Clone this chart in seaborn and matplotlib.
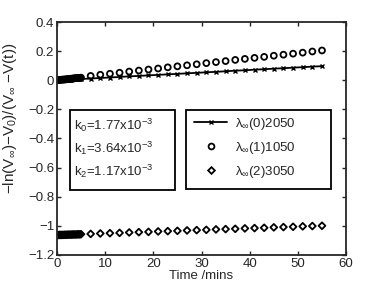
import numpy as np
import pandas as pd
import matplotlib
matplotlib.use("Agg")
import matplotlib.pyplot as plt
import seaborn as sns
from matplotlib.lines import Line2D
from matplotlib.patches import Rectangle

# time points (mins): dense early samples then every 2 mins
t_dense = [0, 0.25, 0.5, 0.75, 1.0, 1.25, 1.5, 1.75, 2.0, 2.25, 2.5,
           2.75, 3.0, 3.25, 3.5, 3.75, 4.0, 4.25, 4.5, 4.75, 5.0]
t_sparse = [7, 9, 11, 13, 15, 17, 19, 21, 23, 25, 27, 29, 31, 33, 35,
            37, 39, 41, 43, 45, 47, 49, 51, 53, 55]

# lambda_inf(0)2050
y0_dense = [0.000, 0.000, 0.001, 0.001, 0.002, 0.002, 0.003, 0.003, 0.004, 0.004, 0.004,
            0.005, 0.005, 0.006, 0.006, 0.007, 0.007, 0.008, 0.008, 0.008, 0.009]
y0_sparse = [0.012, 0.016, 0.019, 0.023, 0.027, 0.030, 0.034, 0.037, 0.041, 0.044, 0.048,
             0.051, 0.055, 0.058, 0.062, 0.066, 0.069, 0.073, 0.076, 0.080, 0.083,
             0.087, 0.090, 0.094, 0.097]

# lambda_inf(1)1050
y1_dense = [0.000, 0.001, 0.002, 0.003, 0.004, 0.005, 0.005, 0.006, 0.007, 0.008, 0.009,
            0.010, 0.011, 0.012, 0.013, 0.014, 0.015, 0.015, 0.016, 0.017, 0.018]
y1_sparse = [0.030, 0.038, 0.045, 0.052, 0.060, 0.067, 0.074, 0.081, 0.089, 0.096, 0.103,
             0.110, 0.118, 0.125, 0.132, 0.140, 0.147, 0.154, 0.161, 0.169, 0.176,
             0.183, 0.190, 0.198, 0.205]

# lambda_inf(2)3050
y2_dense = [-1.064, -1.064, -1.063, -1.063, -1.063, -1.063, -1.062, -1.062, -1.062, -1.061, -1.061,
            -1.061, -1.061, -1.060, -1.060, -1.060, -1.060, -1.059, -1.059, -1.059, -1.058]
y2_sparse = [-1.056, -1.053, -1.051, -1.049, -1.046, -1.044, -1.042, -1.039, -1.037, -1.035,
             -1.032, -1.030, -1.028, -1.025, -1.023, -1.021, -1.018, -1.016, -1.014, -1.011,
             -1.009, -1.007, -1.004, -1.002, -1.000]

labels = [r"$\lambda_{\infty}$(0)2050", r"$\lambda_{\infty}$(1)1050", r"$\lambda_{\infty}$(2)3050"]
k_text = "k$_0$=1.77x10$^{-3}$\nk$_1$=3.64x10$^{-3}$\nk$_2$=1.17x10$^{-3}$"

t = t_dense + t_sparse
df = pd.DataFrame({"t": t, "y0": y0_dense + y0_sparse,
                   "y1": y1_dense + y1_sparse, "y2": y2_dense + y2_sparse})

sns.set_style("ticks")
plt.rcParams['font.family'] = ['Liberation Sans', 'DejaVu Sans']
plt.rcParams['mathtext.fontset'] = 'custom'
plt.rcParams['mathtext.rm'] = 'Liberation Sans'
plt.rcParams['mathtext.it'] = 'Liberation Sans'
plt.rcParams['mathtext.bf'] = 'Liberation Sans:bold'

fs = 9.5
fig, ax = plt.subplots(figsize=(3.82, 2.87), dpi=100)
fig.subplots_adjust(left=0.149, right=0.906, top=0.923, bottom=0.112)

sns.lineplot(data=df, x="t", y="y0", ax=ax, color="black", lw=1.3,
             marker="x", markersize=3, markeredgewidth=1.0, markeredgecolor="black")
sns.scatterplot(data=df, x="t", y="y1", ax=ax, marker="o", s=18,
                facecolor="none", edgecolor="black", linewidth=1.3)
sns.scatterplot(data=df, x="t", y="y2", ax=ax, marker="D", s=12,
                facecolor="none", edgecolor="black", linewidth=1.3)

ax.set_xlim(0, 60)
ax.set_ylim(-1.2, 0.4)
ax.set_xticks([0, 10, 20, 30, 40, 50, 60])
ax.set_yticks([-1.2, -1, -0.8, -0.6, -0.4, -0.2, 0, 0.2, 0.4])
ax.set_yticklabels(["\u22121.2", "\u22121", "\u22120.8", "\u22120.6", "\u22120.4",
                    "\u22120.2", "0", "0.2", "0.4"])
ax.tick_params(direction="in", top=True, right=True, labelsize=fs, length=3, width=1, pad=2)
for sp in ax.spines.values():
    sp.set_linewidth(1.3)

ax.set_xlabel("Time /mins", fontsize=fs, labelpad=0)
ax.set_ylabel("\u2212ln(V$_{\\infty}$)\u2212V$_0$)/(V$_{\\infty}$ \u2212V(t))", fontsize=11)
ax.yaxis.set_label_coords(-0.13, 0.585)

# legend frame and text box frame (MATLAB-style, padded boxes)
ax.add_patch(Rectangle((0.446, 0.283), 0.502, 0.339, transform=ax.transAxes,
                       facecolor="white", edgecolor="black", lw=1.3, zorder=4))
ax.add_patch(Rectangle((0.045, 0.279), 0.363, 0.343, transform=ax.transAxes,
                       facecolor="white", edgecolor="black", lw=1.3, zorder=4))

handles = [
    Line2D([], [], color="black", lw=1.3, marker="x", markersize=3, markeredgewidth=1.0),
    Line2D([], [], ls="none", marker="o", markersize=4.2, markerfacecolor="none",
           markeredgecolor="black", markeredgewidth=1.3),
    Line2D([], [], ls="none", marker="D", markersize=3.4, markerfacecolor="none",
           markeredgecolor="black", markeredgewidth=1.3),
]
leg = ax.legend(handles, labels, loc="upper left", bbox_to_anchor=(0.452, 0.625),
                fontsize=fs, frameon=False, handlelength=2.5, borderpad=0.5,
                labelspacing=0.6, handletextpad=0.6, borderaxespad=0)
leg.set_zorder(6)

ax.text(0.058, 0.595, k_text, transform=ax.transAxes, fontsize=fs, va="top", ha="left",
        linespacing=1.45, zorder=6)

fig.savefig("out.png", dpi=100)
